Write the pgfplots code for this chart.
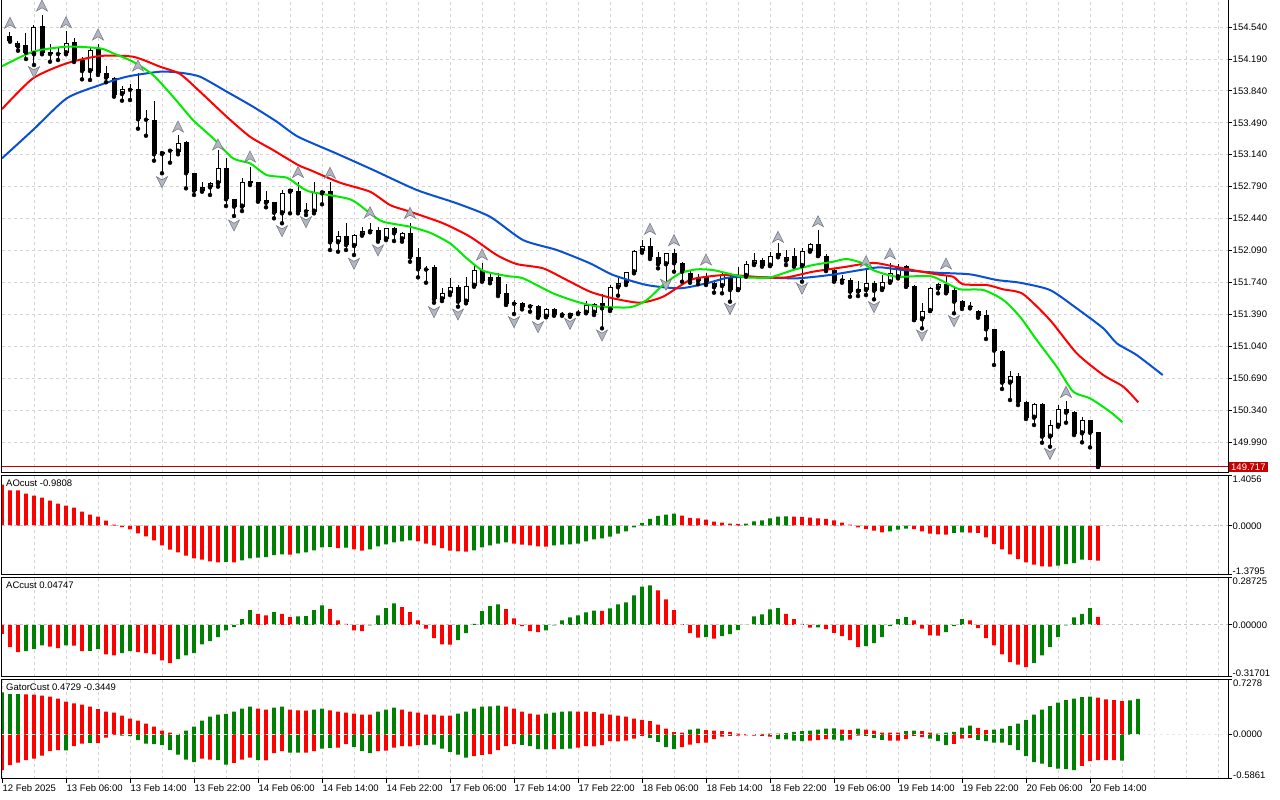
\documentclass[border=0pt]{standalone}
\usepackage{fontspec}
\setmainfont{Liberation Sans}
\usepackage{pgfplots}
\usepackage{pgfplotstable}
\pgfplotsset{compat=1.18}
\definecolor{mtred}{RGB}{255,0,0}
\definecolor{mtgreen}{RGB}{0,128,0}
\definecolor{jaw}{RGB}{10,80,210}
\definecolor{teeth}{RGB}{255,0,0}
\definecolor{lips}{RGB}{0,235,0}
\definecolor{pricered}{RGB}{200,0,0}
\definecolor{gridc}{RGB}{212,212,212}
\definecolor{arrowf}{RGB}{178,182,192}
\definecolor{arrowd}{RGB}{120,124,135}
\newcommand\lab{\fontsize{9.5}{10.5}\selectfont}
\pgfdeclareplotmark{fup}{%
  \pgfpathmoveto{\pgfqpoint{0pt}{6pt}}%
  \pgfpathlineto{\pgfqpoint{-5.5pt}{-5pt}}%
  \pgfpathlineto{\pgfqpoint{0pt}{-1.8pt}}%
  \pgfpathlineto{\pgfqpoint{5.5pt}{-5pt}}%
  \pgfpathclose\pgfusepathqfillstroke}
\pgfdeclareplotmark{fdown}{%
  \pgfpathmoveto{\pgfqpoint{0pt}{-6pt}}%
  \pgfpathlineto{\pgfqpoint{-5.5pt}{5pt}}%
  \pgfpathlineto{\pgfqpoint{0pt}{1.8pt}}%
  \pgfpathlineto{\pgfqpoint{5.5pt}{5pt}}%
  \pgfpathclose\pgfusepathqfillstroke}

\pgfplotstableread{
i o h l c
0 154.441 154.482 154.379 154.390
1 154.324 154.386 154.280 154.361
2 154.343 154.471 154.189 154.258
3 154.241 154.559 154.123 154.537
4 154.551 154.672 154.241 154.258
5 154.269 154.354 154.159 154.244
6 154.258 154.324 154.178 154.244
7 154.252 154.496 154.241 154.361
8 154.372 154.423 154.156 154.170
9 154.178 154.208 153.966 154.057
10 154.057 154.306 153.959 154.288
11 154.313 154.350 154.014 154.032
12 154.032 154.116 153.934 153.984
13 153.984 153.995 153.776 153.794
14 153.805 153.893 153.732 153.857
15 153.857 153.915 153.739 153.851
16 153.857 154.039 153.425 153.528
17 153.528 153.630 153.348 153.523
18 153.520 153.729 153.074 153.144
19 153.147 153.173 152.936 153.173
20 153.188 153.195 153.052 153.183
21 153.173 153.356 153.144 153.271
22 153.279 153.290 152.771 152.936
23 152.936 152.936 152.698 152.745
24 152.745 152.844 152.734 152.789
25 152.782 152.837 152.698 152.826
26 152.826 153.191 152.789 152.991
27 152.991 153.104 152.577 152.651
28 152.651 152.651 152.468 152.570
29 152.570 152.881 152.522 152.837
30 152.851 153.008 152.807 152.826
31 152.844 152.844 152.624 152.632
32 152.643 152.742 152.563 152.613
33 152.618 152.624 152.442 152.504
34 152.497 152.753 152.388 152.723
35 152.734 152.764 152.497 152.764
36 152.745 152.844 152.497 152.515
37 152.533 152.607 152.479 152.519
38 152.515 152.837 152.497 152.734
39 152.716 152.745 152.596 152.738
40 152.742 152.844 152.095 152.179
41 152.179 152.303 152.076 152.248
42 152.248 152.388 152.095 152.150
43 152.139 152.267 152.040 152.259
44 152.259 152.350 152.252 152.303
45 152.306 152.394 152.289 152.301
46 152.314 152.350 152.186 152.204
47 152.212 152.339 152.204 152.333
48 152.333 152.350 152.193 152.278
49 152.212 152.295 152.186 152.278
50 152.278 152.394 151.966 152.015
51 152.015 152.113 151.795 151.883
52 151.886 151.919 151.736 151.881
53 151.905 151.930 151.517 151.554
54 151.554 151.675 151.535 151.620
55 151.620 151.784 151.601 151.686
56 151.692 151.711 151.473 151.528
57 151.528 151.802 151.510 151.703
58 151.703 151.930 151.692 151.875
59 151.875 151.949 151.747 151.758
60 151.758 151.854 151.730 151.802
61 151.802 151.846 151.590 151.612
62 151.620 151.722 151.492 151.503
63 151.510 151.546 151.393 151.505
64 151.510 151.521 151.444 151.466
65 151.481 151.503 151.418 151.476
66 151.481 151.492 151.352 151.363
67 151.363 151.455 151.357 151.444
68 151.444 151.459 151.374 151.382
69 151.390 151.418 151.374 151.385
70 151.374 151.407 151.363 151.401
71 151.407 151.437 151.393 151.402
72 151.407 151.536 151.401 151.492
73 151.407 151.510 151.382 151.499
74 151.510 151.609 151.236 151.455
75 151.437 151.711 151.426 151.686
76 151.686 151.802 151.594 151.730
77 151.730 151.857 151.711 151.850
78 151.850 152.095 151.839 152.084
79 152.084 152.204 152.065 152.142
80 152.142 152.223 151.996 152.015
81 152.015 152.076 151.894 151.938
82 151.938 152.065 151.703 152.059
83 152.059 152.102 151.857 151.949
84 151.949 151.966 151.747 151.857
85 151.846 151.875 151.736 151.766
86 151.802 151.832 151.719 151.755
87 151.810 151.839 151.711 151.730
88 151.730 151.766 151.627 151.686
89 151.700 151.857 151.620 151.821
90 151.802 151.821 151.528 151.656
91 151.656 151.912 151.656 151.810
92 151.810 151.974 151.802 151.941
93 151.938 152.059 151.930 151.985
94 151.985 152.004 151.912 151.923
95 151.923 152.076 151.919 152.029
96 152.029 152.168 152.015 152.059
97 151.977 152.095 151.930 152.015
98 152.029 152.113 151.912 151.919
99 151.919 152.113 151.747 152.084
100 152.084 152.175 152.076 152.157
101 152.157 152.314 152.029 152.029
102 152.029 152.048 151.864 151.875
103 151.875 151.894 151.747 151.758
104 151.766 151.821 151.736 151.761
105 151.766 151.784 151.583 151.638
106 151.638 151.758 151.590 151.664
107 151.656 151.883 151.601 151.730
108 151.730 151.755 151.554 151.648
109 151.664 151.821 151.656 151.741
110 151.741 151.955 151.736 151.846
111 151.795 151.938 151.784 151.894
112 151.919 151.930 151.692 151.692
113 151.700 151.711 151.327 151.327
114 151.335 151.517 151.236 151.426
115 151.426 151.692 151.426 151.675
116 151.675 151.736 151.620 151.719
117 151.719 151.810 151.620 151.627
118 151.656 151.692 151.401 151.528
119 151.536 151.546 151.448 151.473
120 151.473 151.528 151.455 151.468
121 151.426 151.437 151.352 151.371
122 151.382 151.437 151.119 151.225
123 151.232 151.232 150.834 150.991
124 150.991 150.998 150.571 150.640
125 150.640 150.768 150.450 150.713
126 150.713 150.749 150.395 150.431
127 150.431 150.442 150.242 150.256
128 150.256 150.420 150.176 150.406
129 150.406 150.414 149.982 150.048
130 150.048 150.231 149.938 150.176
131 150.168 150.395 150.157 150.348
132 150.348 150.439 150.201 150.311
133 150.322 150.330 150.066 150.077
134 150.085 150.267 149.986 150.231
135 150.231 150.231 149.931 150.091
136 150.102 150.102 149.717 149.717
}\candles

\pgfplotstableread{
i p
-1.0 153.100
2.875 153.411
7.09 153.758
11.25 153.904
14.59 153.995
18.75 154.050
21.25 154.039
23.75 153.995
27.09 153.831
30.38 153.666
33.34 153.502
36.0 153.337
40.75 153.155
45.41 152.972
50.84 152.753
55.84 152.607
60.0 152.460
64.13 152.204
68.34 152.095
72.5 151.949
75.38 151.821
79.59 151.711
83.75 151.675
87.09 151.730
90.0 151.795
94.13 151.795
98.34 151.784
102.5 151.821
106.63 151.880
108.75 151.905
111.63 151.875
115.84 151.846
120.0 151.828
123.34 151.766
126.25 151.736
130.0 151.656
133.34 151.455
136.66 151.236
138.34 151.072
140.84 150.943
144.09 150.724
}\jawline

\pgfplotstableread{
i p
-1.0 153.640
2.875 153.977
7.09 154.142
11.25 154.222
15.38 154.214
18.75 154.105
21.25 154.025
23.75 153.831
27.09 153.556
30.0 153.337
32.88 153.191
36.0 153.027
37.5 152.972
41.25 152.833
45.0 152.734
47.5 152.588
50.0 152.515
54.13 152.388
57.5 152.241
60.84 152.040
63.34 151.941
66.63 151.894
69.59 151.766
72.5 151.638
75.38 151.565
78.75 151.517
81.63 151.583
85.0 151.766
87.88 151.810
90.0 151.821
94.13 151.795
97.09 151.795
100.38 151.857
104.59 151.912
107.09 151.949
108.5 151.949
111.63 151.894
115.84 151.828
117.88 151.802
119.13 151.719
122.09 151.711
124.13 151.664
126.63 151.612
130.0 151.327
133.34 150.962
136.66 150.724
139.16 150.596
141.04 150.425
}\teethline

\pgfplotstableread{
i p
-1.0 154.110
2.875 154.269
7.09 154.324
11.25 154.306
12.88 154.252
15.38 154.159
17.88 154.014
20.38 153.776
22.88 153.520
25.38 153.320
27.88 153.100
30.0 153.045
32.09 152.917
34.59 152.888
36.0 152.807
37.5 152.734
42.5 152.651
45.0 152.497
46.63 152.405
50.0 152.350
52.5 152.284
55.0 152.168
57.09 152.004
59.13 151.868
62.09 151.810
64.13 151.784
67.88 151.620
70.84 151.528
72.5 151.492
73.75 151.473
77.5 151.467
79.59 151.546
81.63 151.711
83.75 151.839
85.84 151.883
87.88 151.875
90.0 151.832
92.09 151.795
95.0 151.795
97.88 151.875
100.38 151.930
102.88 151.966
104.59 151.996
106.63 151.949
108.0 151.870
110.84 151.802
115.0 151.810
117.09 151.730
118.75 151.664
121.66 151.656
124.16 151.547
126.25 151.363
128.34 151.108
130.84 150.815
132.91 150.541
135.0 150.469
137.5 150.322
139.04 150.208
}\lipsline

\pgfplotstableread{
i p
0 154.581
4 154.770
7 154.587
11 154.452
16 154.112
21 153.443
26 153.246
30 153.114
36 152.945
40 152.936
45 152.504
50 152.497
59 152.040
80 152.322
83 152.197
87 151.985
96 152.234
101 152.405
107 151.966
110 152.051
117 151.941
132 150.534
}\fracup

\pgfplotstableread{
i p
3 154.050
19 152.844
28 152.369
34 152.306
37 152.405
43 151.949
46 152.095
53 151.418
56 151.393
63 151.309
66 151.254
70 151.291
74 151.163
82 151.719
90 151.455
99 151.675
108 151.473
114 151.163
118 151.320
130 149.865
}\fracdown

\pgfplotstableread{
i v g
-1 1.154 0
0 0.994 0
1 0.990 0
2 0.901 0
3 0.844 0
4 0.788 0
5 0.704 0
6 0.619 0
7 0.563 0
8 0.507 0
9 0.394 0
10 0.310 0
11 0.253 0
12 0.141 0
13 0.028 0
14 -0.038 0
15 -0.103 0
16 -0.216 0
17 -0.300 0
18 -0.413 0
19 -0.553 0
20 -0.675 0
21 -0.750 0
22 -0.844 0
23 -0.919 0
24 -0.957 0
25 -1.004 0
26 -1.032 0
27 -1.022 1
28 -1.036 0
29 -0.976 1
30 -0.919 1
31 -0.901 1
32 -0.882 1
33 -0.826 1
34 -0.807 1
35 -0.816 0
36 -0.779 1
37 -0.750 1
38 -0.694 1
39 -0.610 1
40 -0.600 1
41 -0.629 0
42 -0.619 1
43 -0.666 0
44 -0.704 0
45 -0.666 1
46 -0.582 1
47 -0.525 1
48 -0.469 1
49 -0.441 1
50 -0.413 1
51 -0.441 0
52 -0.507 0
53 -0.553 0
54 -0.629 0
55 -0.704 0
56 -0.722 0
57 -0.732 0
58 -0.694 1
59 -0.610 1
60 -0.553 1
61 -0.507 1
62 -0.469 1
63 -0.507 0
64 -0.535 0
65 -0.553 0
66 -0.582 0
67 -0.591 0
68 -0.553 1
69 -0.535 1
70 -0.525 1
71 -0.507 1
72 -0.441 1
73 -0.385 1
74 -0.356 1
75 -0.310 1
76 -0.225 1
77 -0.159 1
78 -0.047 1
79 0.075 1
80 0.188 1
81 0.272 1
82 0.310 1
83 0.338 1
84 0.281 0
85 0.216 0
86 0.206 0
87 0.169 0
88 0.113 0
89 0.084 0
90 0.056 0
91 0.052 0
92 0.056 1
93 0.122 1
94 0.150 1
95 0.206 1
96 0.253 1
97 0.258 1
98 0.253 0
99 0.249 0
100 0.225 0
101 0.206 0
102 0.188 0
103 0.150 0
104 0.084 0
105 0.028 0
106 -0.047 0
107 -0.094 0
108 -0.141 0
109 -0.188 0
110 -0.159 1
111 -0.113 1
112 -0.084 1
113 -0.094 0
114 -0.159 0
115 -0.225 0
116 -0.244 0
117 -0.253 0
118 -0.206 1
119 -0.188 1
120 -0.197 0
121 -0.206 0
122 -0.328 0
123 -0.516 0
124 -0.666 0
125 -0.807 0
126 -0.938 0
127 -1.032 0
128 -1.097 0
129 -1.144 0
130 -1.154 0
131 -1.126 1
132 -1.079 1
133 -1.051 1
134 -0.955 1
135 -0.965 0
136 -0.9808 0
}\aodata

\pgfplotstableread{
i v g
-1 -0.055 0
0 -0.136 0
1 -0.167 0
2 -0.161 1
3 -0.149 1
4 -0.126 1
5 -0.134 0
6 -0.142 0
7 -0.126 1
8 -0.128 0
9 -0.161 0
10 -0.159 1
11 -0.149 1
12 -0.181 0
13 -0.187 0
14 -0.173 1
15 -0.161 1
16 -0.167 0
17 -0.173 0
18 -0.181 0
19 -0.218 0
20 -0.234 0
21 -0.210 1
22 -0.187 1
23 -0.173 1
24 -0.120 1
25 -0.100 1
26 -0.075 1
27 -0.035 1
28 -0.014 1
29 0.035 1
30 0.090 1
31 0.067 0
32 0.057 0
33 0.077 1
34 0.067 0
35 0.047 0
36 0.051 1
37 0.053 1
38 0.090 1
39 0.118 1
40 0.096 0
41 0.026 0
42 0.006 0
43 -0.035 0
44 -0.039 0
45 -0.004 1
46 0.057 1
47 0.102 1
48 0.130 1
49 0.108 0
50 0.077 0
51 0.026 0
52 -0.024 0
53 -0.081 0
54 -0.120 0
55 -0.122 0
56 -0.094 1
57 -0.051 1
58 0.006 1
59 0.083 1
60 0.114 1
61 0.124 1
62 0.096 0
63 0.039 0
64 -0.008 0
65 -0.039 0
66 -0.045 0
67 -0.035 1
68 -0.004 1
69 0.026 1
70 0.045 1
71 0.057 1
72 0.075 1
73 0.087 1
74 0.085 0
75 0.100 1
76 0.124 1
77 0.136 1
78 0.179 1
79 0.232 1
80 0.240 1
81 0.210 0
82 0.155 0
83 0.090 0
84 0.004 0
85 -0.051 0
86 -0.079 0
87 -0.075 1
88 -0.085 0
89 -0.069 1
90 -0.057 1
91 -0.033 1
92 -0.001 1
93 0.051 1
94 0.063 1
95 0.094 1
96 0.102 1
97 0.067 0
98 0.035 0
99 0.006 0
100 -0.018 0
101 -0.016 1
102 -0.026 0
103 -0.049 0
104 -0.069 0
105 -0.094 0
106 -0.136 0
107 -0.130 1
108 -0.112 1
109 -0.075 1
110 -0.008 1
111 0.035 1
112 0.047 1
113 0.026 0
114 -0.024 0
115 -0.065 0
116 -0.067 0
117 -0.045 1
118 -0.008 1
119 0.035 1
120 0.026 0
121 -0.020 0
122 -0.081 0
123 -0.126 0
124 -0.181 0
125 -0.228 0
126 -0.244 0
127 -0.258 0
128 -0.234 1
129 -0.187 1
130 -0.136 1
131 -0.075 1
132 -0.004 1
133 0.045 1
134 0.067 1
135 0.102 1
136 0.04747 0
}\acdata

\pgfplotstableread{
i up gu lo gl
-1 0.558 1 -0.473 0
0 0.535 1 -0.407 0
1 0.535 1 -0.372 0
2 0.533 0 -0.341 0
3 0.531 0 -0.319 0
4 0.518 0 -0.279 0
5 0.504 0 -0.221 0
6 0.478 0 -0.208 0
7 0.438 0 -0.210 1
8 0.412 0 -0.155 0
9 0.398 0 -0.119 0
10 0.372 0 -0.111 1
11 0.336 0 -0.113 0
12 0.305 0 -0.040 0
13 0.292 0 -0.009 0
14 0.252 0 -0.013 1
15 0.212 0 -0.022 1
16 0.186 0 -0.075 1
17 0.146 0 -0.119 1
18 0.106 0 -0.128 1
19 0.053 0 -0.142 1
20 0.027 0 -0.208 1
21 0.010 0 -0.265 1
22 0.053 1 -0.332 1
23 0.106 1 -0.367 1
24 0.186 1 -0.319 0
25 0.239 1 -0.332 0
26 0.265 1 -0.341 1
27 0.274 1 -0.398 1
28 0.305 1 -0.376 0
29 0.345 1 -0.332 0
30 0.372 1 -0.305 0
31 0.345 0 -0.341 1
32 0.332 0 -0.343 0
33 0.358 1 -0.248 0
34 0.372 1 -0.221 0
35 0.332 0 -0.239 1
36 0.319 0 -0.241 1
37 0.316 0 -0.239 0
38 0.332 1 -0.221 0
39 0.345 1 -0.186 1
40 0.319 0 -0.177 1
41 0.305 0 -0.173 0
42 0.292 0 -0.128 0
43 0.279 0 -0.164 1
44 0.265 0 -0.221 1
45 0.263 0 -0.248 1
46 0.305 1 -0.221 0
47 0.332 1 -0.212 0
48 0.358 1 -0.173 0
49 0.332 0 -0.155 0
50 0.305 0 -0.157 0
51 0.292 0 -0.142 0
52 0.265 0 -0.142 1
53 0.263 0 -0.133 1
54 0.252 0 -0.186 1
55 0.250 0 -0.230 1
56 0.279 1 -0.265 1
57 0.305 1 -0.305 1
58 0.345 1 -0.288 0
59 0.372 1 -0.270 0
60 0.374 1 -0.261 0
61 0.385 1 -0.208 0
62 0.372 0 -0.155 0
63 0.345 0 -0.128 0
64 0.305 0 -0.137 1
65 0.279 0 -0.155 1
66 0.265 0 -0.195 1
67 0.279 1 -0.197 1
68 0.292 1 -0.195 0
69 0.305 1 -0.195 1
70 0.308 1 -0.186 1
71 0.305 0 -0.173 0
72 0.303 0 -0.155 0
73 0.296 0 -0.157 0
74 0.279 0 -0.142 0
75 0.265 0 -0.088 0
76 0.252 0 -0.091 0
77 0.239 0 -0.080 0
78 0.212 0 -0.053 0
79 0.195 0 -0.018 0
80 0.177 0 -0.044 1
81 0.133 0 -0.097 1
82 0.080 0 -0.168 1
83 0.031 0 -0.195 1
84 0.027 0 -0.168 0
85 0.066 1 -0.133 0
86 0.080 1 -0.115 0
87 0.058 0 -0.106 0
88 0.053 0 -0.062 0
89 0.044 0 -0.027 0
90 0.035 0 -0.018 0
91 0.013 0 -0.013 0
92 0.004 0 -0.012 0
93 0.006 0 -0.013 0
94 0.009 1 -0.018 0
95 0.013 1 -0.027 0
96 0.013 0 -0.062 1
97 0.018 1 -0.064 1
98 0.035 1 -0.080 1
99 0.044 1 -0.088 1
100 0.053 1 -0.080 0
101 0.066 1 -0.075 0
102 0.080 1 -0.062 0
103 0.082 1 -0.066 1
104 0.066 0 -0.080 1
105 0.058 0 -0.066 0
106 0.080 1 -0.013 0
107 0.066 0 -0.018 1
108 0.053 0 -0.044 1
109 0.027 0 -0.071 1
110 0.025 0 -0.080 0
111 0.024 0 -0.082 0
112 0.044 1 -0.062 0
113 0.053 1 -0.018 0
114 0.044 0 -0.035 0
115 0.027 0 -0.053 1
116 0.013 0 -0.088 1
117 0.027 1 -0.142 1
118 0.035 1 -0.124 0
119 0.093 1 -0.053 0
120 0.119 1 -0.044 0
121 0.088 0 -0.071 1
122 0.058 0 -0.088 1
123 0.066 1 -0.106 1
124 0.080 1 -0.108 1
125 0.111 1 -0.142 1
126 0.146 1 -0.208 1
127 0.195 1 -0.288 1
128 0.265 1 -0.367 1
129 0.332 1 -0.385 1
130 0.376 1 -0.429 1
131 0.425 1 -0.451 1
132 0.456 1 -0.460 1
133 0.478 1 -0.473 1
134 0.496 1 -0.416 0
135 0.504 1 -0.354 0
136 0.491 0 -0.341 0
137 0.465 0 -0.340 0
138 0.456 0 -0.341 0
139 0.445 0 -0.3449 1
140 0.452 1 0 1
141 0.4729 1 0 1
}\gatordata

\pgfplotsset{
  mtbase/.style={
    scale only axis, width=1226pt, xmin=-1, xmax=152.25,
    axis line style={black, line width=1pt},
    xtick={7,15,...,151}, minor xtick={3,11,...,151},
    xmajorgrids, xminorgrids, xticklabels={},
    major grid style={draw=gridc, line width=0.8pt, dash pattern=on 3pt off 3pt},
    minor grid style={draw=gridc, line width=0.8pt, dash pattern=on 3pt off 3pt},
    xtick style={draw=none}, minor tick length=0pt,
    ytick pos=right, yticklabel pos=right, tick align=outside,
    major tick length=3.5pt, ytick style={black, line width=0.8pt},
    ticklabel style={font=\lab, inner sep=1pt},
    yticklabel style={anchor=west},
  },
  hbar/.style={ybar, bar width=3.8pt, bar shift=0pt, draw=none, fill=#1},
  zeroline/.style={gray!45, line width=0.8pt, dash pattern=on 3pt off 3pt},
}

\begin{document}
\begin{tikzpicture}
\useasboundingbox (0,0) rectangle (1280pt,800pt);

% ---------------- main price panel ----------------
\begin{axis}[mtbase, at={(2pt,800pt)}, anchor=north west, height=473pt,
  ymin=149.650, ymax=154.836,
  ytick={149.99,150.34,150.69,151.04,151.39,151.74,152.09,152.44,152.79,153.14,153.49,153.84,154.19,154.54},
  yticklabels={149.990,150.340,150.690,151.040,151.390,151.740,152.090,152.440,152.790,153.140,153.490,153.840,154.190,154.540},
  ymajorgrids,
  extra y ticks={149.717}, extra y tick labels={149.717},
  extra y tick style={grid=none, major tick length=0pt,
     yticklabel style={fill=pricered, text=white, inner xsep=2pt, inner ysep=1.6pt, xshift=1pt}},
]
% wicks
\addplot[only marks, mark=none, error bars/.cd, y dir=plus, y explicit, error mark=none,
  error bar style={black, line width=1pt}]
  table[x=i, y=l, y error expr=\thisrow{h}-\thisrow{l}] {\candles};
% bearish bodies
\addplot[only marks, mark=none, restrict expr to domain={\thisrow{o}-\thisrow{c}}{0.00001:10},
  error bars/.cd, y dir=plus, y explicit, error mark=none, error bar style={black, line width=5pt}]
  table[x=i, y=c, y error expr={max(\thisrow{o}-\thisrow{c},0.011)}] {\candles};
% bullish bodies (outline + white inside)
\addplot[only marks, mark=none, restrict expr to domain={\thisrow{c}-\thisrow{o}}{0.00001:10},
  error bars/.cd, y dir=plus, y explicit, error mark=none, error bar style={black, line width=5pt}]
  table[x=i, y=o, y error expr={max(\thisrow{c}-\thisrow{o},0.011)}] {\candles};
\addplot[only marks, mark=none, restrict expr to domain={\thisrow{c}-\thisrow{o}}{0.00001:10},
  error bars/.cd, y dir=plus, y explicit, error mark=none, error bar style={white, line width=3pt}]
  table[x=i, y expr=\thisrow{o}+0.011, y error expr={max(\thisrow{c}-\thisrow{o}-0.022,0)}] {\candles};
% alligator
\addplot[jaw, line width=2pt, smooth, tension=0.4] table[x=i, y=p] {\jawline};
\addplot[teeth, line width=2pt, smooth, tension=0.4] table[x=i, y=p] {\teethline};
\addplot[lips, line width=2pt, smooth, tension=0.4] table[x=i, y=p] {\lipsline};
% fractals
\addplot[only marks, mark=fup, mark options={fill=arrowf, draw=arrowd, line width=0.6pt}] table[x=i, y=p] {\fracup};
\addplot[only marks, mark=fdown, mark options={fill=arrowf, draw=arrowd, line width=0.6pt}] table[x=i, y=p] {\fracdown};
% last price line and marker
\addplot[pricered, line width=1pt] coordinates {(-1,149.717) (152.25,149.717)};
\addplot[only marks, mark=square, mark size=3.5pt, mark options={draw=red!75!white, line width=1pt}] coordinates {(138,149.646)};
\end{axis}

% ---------------- AO panel ----------------
\begin{axis}[mtbase, at={(2pt,324.3pt)}, anchor=north west, height=99pt,
  ymin=-1.3795, ymax=1.4056,
  ytick={-1.3795,0,1.4056},
  yticklabels={\smash{\raisebox{0.3pt}{-1.3795}},\smash{\raisebox{-3.4pt}{0.0000}},\smash{\raisebox{-6.8pt}{1.4056}}},
]
\addplot[hbar=mtred, restrict expr to domain={\thisrow{g}}{-0.5:0.5}] table[x=i, y=v] {\aodata};
\addplot[hbar=mtgreen, restrict expr to domain={\thisrow{g}}{0.5:1.5}] table[x=i, y=v] {\aodata};
\addplot[zeroline] coordinates {(-1,0) (152.25,0)};
\node[anchor=north west, font=\lab, inner sep=0pt, xshift=4pt, yshift=-4.2pt] at (rel axis cs:0,1) {AOcust -0.9808};
\end{axis}

% ---------------- AC panel ----------------
\begin{axis}[mtbase, at={(2pt,222.3pt)}, anchor=north west, height=99pt,
  ymin=-0.31701, ymax=0.28725,
  ytick={-0.31701,0,0.28725},
  yticklabels={\smash{\raisebox{0.3pt}{-0.31701}},\smash{\raisebox{-3.4pt}{0.00000}},\smash{\raisebox{-6.8pt}{0.28725}}},
]
\addplot[hbar=mtred, restrict expr to domain={\thisrow{g}}{-0.5:0.5}] table[x=i, y=v] {\acdata};
\addplot[hbar=mtgreen, restrict expr to domain={\thisrow{g}}{0.5:1.5}] table[x=i, y=v] {\acdata};
\addplot[zeroline] coordinates {(-1,0) (152.25,0)};
\node[anchor=north west, font=\lab, inner sep=0pt, xshift=4pt, yshift=-4.2pt] at (rel axis cs:0,1) {ACcust 0.04747};
\end{axis}

% ---------------- Gator panel ----------------
\begin{axis}[mtbase, at={(2pt,120.3pt)}, anchor=north west, height=99pt,
  ymin=-0.5861, ymax=0.7278,
  ytick={-0.5861,0,0.7278},
  yticklabels={\smash{\raisebox{0.3pt}{-0.5861}},\smash{\raisebox{-3.4pt}{0.0000}},\smash{\raisebox{-6.8pt}{0.7278}}},
  xtick={-1,7,15,23,31,39,47,55,63,71,79,87,95,103,111,119,127,135},
  minor xtick={3,11,19,27,35,43,51,59,67,75,83,91,99,107,115,123,131,139,143,147,151},
  xticklabels={12 Feb 2025,13 Feb 06:00,13 Feb 14:00,13 Feb 22:00,14 Feb 06:00,14 Feb 14:00,14 Feb 22:00,17 Feb 06:00,17 Feb 14:00,17 Feb 22:00,18 Feb 06:00,18 Feb 14:00,18 Feb 22:00,19 Feb 06:00,19 Feb 14:00,19 Feb 22:00,20 Feb 06:00,20 Feb 14:00},
  xtick pos=left, xtick style={draw=black, line width=0.8pt},
  major tick length=4pt,
  xticklabel style={anchor=north west, inner sep=0pt, yshift=-1.5pt, xshift=0.5pt},
]
\addplot[hbar=mtred, restrict expr to domain={\thisrow{gu}}{-0.5:0.5}] table[x=i, y=up] {\gatordata};
\addplot[hbar=mtgreen, restrict expr to domain={\thisrow{gu}}{0.5:1.5}] table[x=i, y=up] {\gatordata};
\addplot[hbar=mtred, restrict expr to domain={\thisrow{gl}}{-0.5:0.5}] table[x=i, y=lo] {\gatordata};
\addplot[hbar=mtgreen, restrict expr to domain={\thisrow{gl}}{0.5:1.5}] table[x=i, y=lo] {\gatordata};
\addplot[zeroline, draw=white!85!gray] coordinates {(-1,0) (152.25,0)};
\node[anchor=north west, font=\lab, inner sep=0pt, xshift=4pt, yshift=-4.2pt] at (rel axis cs:0,1) {GatorCust 0.4729 -0.3449};
\end{axis}
\end{tikzpicture}
\end{document}
